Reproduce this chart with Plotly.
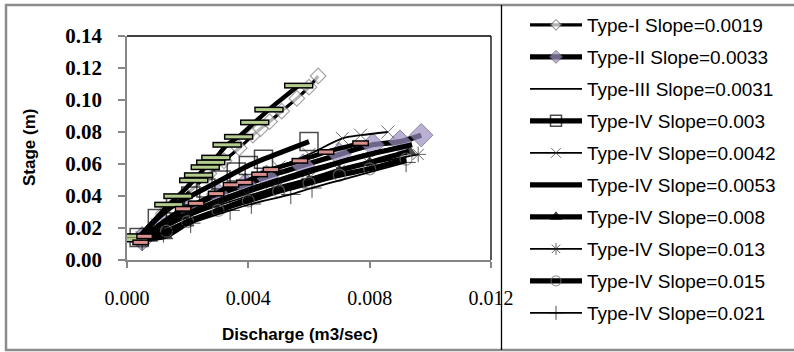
import plotly.graph_objects as go

# ---------------- data ----------------
t1_x = [0.0005, 0.0012, 0.0017, 0.0022, 0.0027, 0.0032, 0.0037, 0.00415, 0.0044, 0.0047, 0.0051, 0.0056, 0.0060, 0.0063]
t1_y = [0.016, 0.029, 0.037, 0.045, 0.054, 0.062, 0.070, 0.078, 0.082, 0.0865, 0.093, 0.101, 0.108, 0.115]

t2_x = [0.0005, 0.0012, 0.0020, 0.0030, 0.0039, 0.0046, 0.0058, 0.0070, 0.0081, 0.0090, 0.0097]
t2_y = [0.013, 0.023, 0.032, 0.041, 0.047, 0.052, 0.059, 0.066, 0.072, 0.074, 0.078]

t3_x = [0.0005, 0.0010, 0.0020, 0.0030, 0.0040, 0.0050, 0.0060, 0.0070, 0.0080, 0.0090]
t3_y = [0.013, 0.020, 0.030, 0.038, 0.045, 0.051, 0.057, 0.062, 0.067, 0.071]

s003_x = [0.0004, 0.0010, 0.0016, 0.0021, 0.0026, 0.0031, 0.0036, 0.0040, 0.0045, 0.0060]
s003_y = [0.014, 0.026, 0.035, 0.040, 0.045, 0.050, 0.055, 0.059, 0.063, 0.074]

s0042_x = [0.0005, 0.0010, 0.0015, 0.0020, 0.0030, 0.0040, 0.0050, 0.0060, 0.0071, 0.0077, 0.0086]
s0042_y = [0.014, 0.022, 0.028, 0.033, 0.042, 0.050, 0.058, 0.066, 0.076, 0.078, 0.080]

s0053_x = [0.0005, 0.0010, 0.0020, 0.0030, 0.0040, 0.0050, 0.0060, 0.0070, 0.0080, 0.0094]
s0053_y = [0.013, 0.019, 0.028, 0.036, 0.043, 0.049, 0.055, 0.061, 0.066, 0.072]

s008_x = [0.0004, 0.0008, 0.0013, 0.0020, 0.0030, 0.0040, 0.0050, 0.0060, 0.0070, 0.0080, 0.0093]
s008_y = [0.0135, 0.0135, 0.015, 0.023, 0.031, 0.038, 0.044, 0.050, 0.056, 0.061, 0.068]

s013_x = [0.0005, 0.0012, 0.0020, 0.0030, 0.0040, 0.0050, 0.0060, 0.0070, 0.0080, 0.0096]
s013_y = [0.013, 0.020, 0.027, 0.034, 0.040, 0.046, 0.051, 0.056, 0.060, 0.066]

s015_x = [0.0005, 0.0013, 0.0020, 0.0030, 0.0040, 0.0050, 0.0060, 0.0070, 0.0080, 0.0092]
s015_y = [0.012, 0.018, 0.024, 0.031, 0.037, 0.043, 0.048, 0.053, 0.057, 0.063]

s021_x = [0.0005, 0.0012, 0.0021, 0.0034, 0.0041, 0.0054, 0.0061, 0.0092]
s021_y = [0.012, 0.017, 0.023, 0.031, 0.035, 0.041, 0.045, 0.061]

# series not shown in the (truncated) legend
green_x = [0.00023, 0.0004, 0.00138, 0.00168, 0.0022, 0.00236, 0.00258, 0.00276, 0.00293, 0.0033, 0.00368, 0.00421, 0.00468, 0.00566]
green_y = [0.0128, 0.0149, 0.0346, 0.0399, 0.0498, 0.053, 0.058, 0.061, 0.064, 0.072, 0.077, 0.086, 0.094, 0.109]

pink_x = [0.00045, 0.00058, 0.00185, 0.00228, 0.00294, 0.00343, 0.00387, 0.00437, 0.00475, 0.0057, 0.00656, 0.0077]
pink_y = [0.011, 0.0148, 0.032, 0.0354, 0.0415, 0.047, 0.0485, 0.0535, 0.0565, 0.062, 0.0675, 0.073]

names = ["Type-I Slope=0.0019", "Type-II Slope=0.0033", "Type-III Slope=0.0031",
         "Type-IV Slope=0.003", "Type-IV Slope=0.0042", "Type-IV Slope=0.0053",
         "Type-IV Slope=0.008", "Type-IV Slope=0.013", "Type-IV Slope=0.015",
         "Type-IV Slope=0.021"]

x_ticks = [0.000, 0.004, 0.008, 0.012]
y_ticks = [0.00, 0.02, 0.04, 0.06, 0.08, 0.10, 0.12, 0.14]

# ---------------- figure ----------------
fig = go.Figure()

THICK = 5.2
THIN = 1.8


def mk(symbol, plot_size, legend_size, color, lcolor, lwidth, n):
    # legend shows `legend_size`; plot shows `plot_size` (via sizeref)
    return dict(symbol=symbol, size=[legend_size] * n, sizemode="diameter",
                sizeref=legend_size / plot_size, color=color,
                line=dict(color=lcolor, width=lwidth))


def add(x, y, name, lw, marker=None, grp=None, show=True):
    kw = dict(x=x, y=y, name=name, showlegend=show,
              line=dict(color="black", width=lw, shape="spline", smoothing=0.8),
              legendgroup=grp or name)
    if marker is None:
        kw["mode"] = "lines"
    else:
        kw["mode"] = "lines+markers"
        kw["marker"] = marker
    fig.add_trace(go.Scatter(**kw))


add(t1_x, t1_y, names[0], 3.2, mk("diamond", 12, 8, "white", "#808080", 1.2, len(t1_x)))
add(t2_x, t2_y, names[1], THICK, mk("diamond", 18, 10, "#9D90C2", "#5A536E", 1, len(t2_x)))
add(t3_x, t3_y, names[2], THIN)
add(s003_x, s003_y, names[3], THICK, mk("square-open", 18, 11, "black", "black", 1.5, len(s003_x)))
add(s0042_x, s0042_y, names[4], THIN, mk("x-thin-open", 13, 10, "#303030", "#303030", 1, len(s0042_x)))
add(s0053_x, s0053_y, names[5], THICK)
add(s008_x, s008_y, names[6], THICK, mk("triangle-up", 11, 10, "black", "black", 1, len(s008_x)))
add(s013_x, s013_y, names[7], THIN, mk("asterisk-open", 13, 10, "#202020", "#202020", 1, len(s013_x)))
add(s015_x, s015_y, names[8], THICK, mk("circle-open", 12, 10, "#707070", "#505050", 1.2, len(s015_x)))
add(s021_x, s021_y, names[9], THIN, mk("cross-thin-open", 14, 10, "black", "black", 1, len(s021_x)))

# hidden series with dash markers (black outline + coloured fill)
add(green_x, green_y, "green", 4.5, None, "hidden", False)
add(pink_x, pink_y, "pink", 4.5, None, "hidden", False)
for xs, ys, col, sz in [(green_x, green_y, "#B3CB8C", 19), (pink_x, pink_y, "#D9908E", 10)]:
    fig.add_trace(go.Scatter(x=xs, y=ys, mode="markers", showlegend=False, legendgroup="hidden",
                             marker=dict(symbol="line-ew", size=sz + 2,
                                         line=dict(color="black", width=6))))
    fig.add_trace(go.Scatter(x=xs, y=ys, mode="markers", showlegend=False, legendgroup="hidden",
                             marker=dict(symbol="line-ew", size=sz,
                                         line=dict(color=col, width=3))))

AX = "#868686"
fig.update_xaxes(range=[0, 0.012], tickvals=x_ticks, tickformat=".3f",
                 showline=True, linecolor=AX, linewidth=1.5, showgrid=False, zeroline=False,
                 ticks="outside", ticklen=6, tickcolor=AX, tickwidth=1.5,
                 ticklabelstandoff=13,
                 tickfont=dict(family="Liberation Serif", size=20, color="black"))
fig.update_yaxes(range=[0, 0.14], tickvals=y_ticks, tickformat=".2f",
                 showline=True, linecolor=AX, linewidth=1.5, showgrid=False, zeroline=False,
                 ticks="outside", ticklen=7, tickcolor=AX, tickwidth=1.5,
                 ticklabelstandoff=12,
                 tickfont=dict(family="Liberation Serif", size=21, color="black", weight="bold"))

L, T, R, B = 127, 36, 491, 260
W, H = 794, 352
pw, ph = R - L, B - T


def px2x(p):
    return (p - L) / pw


def py2y(p):
    return (B - p) / ph


shapes = [
    # plot area top and right borders
    dict(type="line", xref="paper", yref="paper", x0=0, x1=1, y0=1, y1=1, line=dict(color="black", width=1.3)),
    dict(type="line", xref="paper", yref="paper", x0=1, x1=1, y0=0, y1=1, line=dict(color="black", width=1.3)),
    # outer chart border
    dict(type="rect", xref="paper", yref="paper", x0=px2x(6), x1=px2x(810), y0=py2y(350), y1=py2y(5),
         line=dict(color="#8C8C8C", width=2.5)),
    # legend divider
    dict(type="line", xref="paper", yref="paper", x0=px2x(501.5), x1=px2x(501.5), y0=py2y(350), y1=py2y(5),
         line=dict(color="black", width=1.3)),
]

annotations = [
    dict(text="<b>Stage (m)</b>", xref="paper", yref="paper", x=px2x(29), y=py2y(148),
         showarrow=False, textangle=-90, xanchor="center", yanchor="middle",
         font=dict(family="Liberation Sans", size=17, color="black")),
    dict(text="<b>Discharge (m3/sec)</b>", xref="paper", yref="paper", x=px2x(300), y=py2y(334),
         showarrow=False, xanchor="center", yanchor="middle",
         font=dict(family="Liberation Sans", size=17, color="black")),
]

fig.update_layout(
    width=W, height=H,
    margin=dict(l=L, r=W - R, t=T, b=H - B, autoexpand=False),
    paper_bgcolor="white", plot_bgcolor="white",
    shapes=shapes, annotations=annotations,
    legend=dict(x=px2x(525), y=py2y(6), xanchor="left", yanchor="top",
                font=dict(family="Liberation Sans", size=19, color="black"),
                itemwidth=52, tracegroupgap=4.3, bgcolor="rgba(0,0,0,0)",
                itemsizing="trace", maxheight=400),
)

fig.write_html("out.html", config={"displayModeBar": False},
               post_script="document.body.style.margin='0px';")
